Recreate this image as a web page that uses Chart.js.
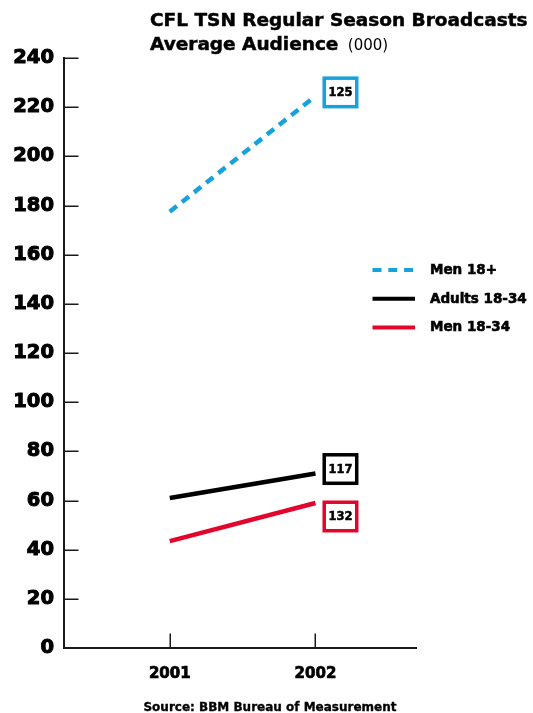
<!DOCTYPE html>
<html>
<head>
<meta charset="utf-8">
<script src="https://cdn.jsdelivr.net/npm/chart.js@4/dist/chart.umd.min.js"></script>
<style>
  html, body { margin: 0; padding: 0; background: #fff; }
  #wrap { position: relative; width: 533px; height: 713px; overflow: hidden; }
  #c { position: absolute; left: 0; top: 0; }
  .title { position: absolute; left: 150px; top: 8px; font-family: "DejaVu Sans", sans-serif; font-weight: bold; font-size: 18.5px; line-height: 24px; color: #000; white-space: nowrap; -webkit-text-stroke: 0.5px #000; }
  .title .unit { font-weight: normal; font-size: 15px; margin-left: 3px; -webkit-text-stroke: 0; }
  .source { position: absolute; left: 0; width: 540px; text-align: center; top: 700px; font-family: "DejaVu Sans", sans-serif; font-weight: bold; font-size: 12px; line-height: 14px; color: #000; white-space: nowrap; -webkit-text-stroke: 0.35px #000; }
</style>
</head>
<body>
<div id="wrap">
  <canvas id="c" width="533" height="713"></canvas>
  <div class="title">CFL TSN Regular Season Broadcasts<br>Average Audience <span class="unit">(000)</span></div>
  <div class="source">Source: BBM Bureau of Measurement</div>
</div>
<script>
// ---- data ----
const years = [2001, 2002];
const seriesLabels = ['Men 18+', 'Adults 18-34', 'Men 18-34'];
const men18plus = [177.5, 224.5];
const adults1834 = [61, 71];
const men1834 = [43.5, 59];
const changeLabels = ['125', '117', '132'];      // % change boxes
const changeBoxValues = [226, 72.8, 53.5];       // vertical anchor (axis units) of each box
const yMin = 0, yMax = 240, yStep = 20;

// ---- styles ----
const colors = ['#17a2dc', '#000000', '#e2062c'];
const dashes = [[9, 6.5], [], []];
const axisColor = '#1a1a1a';
const FONT = '"DejaVu Sans", sans-serif';

const seriesValues = [men18plus, adults1834, men1834];
const datasets = seriesValues.map((vals, i) => ({
  label: seriesLabels[i],
  data: years.map((yr, j) => ({ x: yr, y: vals[j] })),
  borderColor: colors[i],
  backgroundColor: colors[i],
  borderWidth: 4.5,
  borderDash: dashes[i],
  borderCapStyle: 'butt',
  pointRadius: 0,
  tension: 0,
  fill: false
}));

// inner tick marks
const innerTicks = {
  id: 'innerTicks',
  afterDraw(chart) {
    const ctx = chart.ctx, xs = chart.scales.x, ys = chart.scales.y;
    const L = 14.5;
    ctx.save();
    ctx.strokeStyle = axisColor;
    ctx.lineWidth = 1.5;
    ctx.beginPath();
    ys.ticks.forEach(t => {
      const py = Math.round(ys.getPixelForValue(t.value)) + 0.25;
      ctx.moveTo(xs.left, py); ctx.lineTo(xs.left + L, py);
    });
    years.forEach(yr => {
      const px = Math.round(xs.getPixelForValue(yr)) + 0.25;
      ctx.moveTo(px, ys.bottom); ctx.lineTo(px, ys.bottom - L);
    });
    ctx.stroke();
    ctx.restore();
  }
};

// percent-change boxes
const changeBoxes = {
  id: 'changeBoxes',
  afterDatasetsDraw(chart) {
    const ctx = chart.ctx, xs = chart.scales.x, ys = chart.scales.y;
    const w = 32.5, h = 28.5;
    ctx.save();
    changeLabels.forEach((txt, i) => {
      const cx = xs.getPixelForValue(years[years.length - 1]) + 25;
      const cy = ys.getPixelForValue(changeBoxValues[i]);
      ctx.fillStyle = '#fff';
      ctx.fillRect(cx - w / 2, cy - h / 2, w, h);
      ctx.strokeStyle = chart.data.datasets[i].borderColor;
      ctx.lineWidth = 3.5;
      ctx.strokeRect(cx - w / 2, cy - h / 2, w, h);
      ctx.fillStyle = '#000';
      ctx.strokeStyle = '#000';
      ctx.lineWidth = 0.5;
      ctx.font = 'bold 11.5px ' + FONT;
      ctx.textAlign = 'center';
      ctx.textBaseline = 'middle';
      ctx.fillText(txt, cx, cy + 0.5);
      ctx.strokeText(txt, cx, cy + 0.5);
    });
    ctx.restore();
  }
};

// custom legend to the right of the plot
const sideLegend = {
  id: 'sideLegend',
  afterDraw(chart) {
    const ctx = chart.ctx, area = chart.chartArea;
    const x0 = area.right - 43.5, x1 = area.right - 1, tx = area.right + 14;
    const y0 = 270, gap = 28.7;
    ctx.save();
    chart.data.datasets.forEach((ds, i) => {
      const y = y0 + i * gap;
      ctx.strokeStyle = ds.borderColor;
      ctx.lineWidth = 4;
      ctx.lineCap = 'butt';
      ctx.setLineDash(ds.borderDash && ds.borderDash.length ? [9, 6.8] : []);
      ctx.beginPath(); ctx.moveTo(x0, y); ctx.lineTo(x1, y); ctx.stroke();
      ctx.setLineDash([]);
      ctx.fillStyle = '#000';
      ctx.strokeStyle = '#000';
      ctx.lineWidth = 0.6;
      ctx.font = 'bold 13.5px ' + FONT;
      ctx.textAlign = 'left';
      ctx.textBaseline = 'middle';
      ctx.fillText(ds.label, tx, y + 0.5);
      ctx.strokeText(ds.label, tx, y + 0.5);
    });
    ctx.restore();
  }
};

new Chart(document.getElementById('c'), {
  type: 'line',
  data: { datasets },
  options: {
    responsive: false,
    animation: false,
    devicePixelRatio: 1,
    layout: { padding: { top: 58, right: 117, left: 0, bottom: 0 } },
    plugins: { legend: { display: false }, title: { display: false }, tooltip: { enabled: false } },
    scales: {
      x: {
        type: 'linear',
        min: 2000.274, max: 2002.69,
        afterBuildTicks: s => { s.ticks = years.map(v => ({ value: v })); },
        afterFit: s => { s.height = 713 - 648; },
        grid: { display: false, drawTicks: false },
        border: { display: true, color: axisColor, width: 2 },
        ticks: {
          callback: v => String(v),
          font: { family: FONT, weight: 'bold', size: 15 },
          color: '#000',
          textStrokeColor: '#000',
          textStrokeWidth: 0.7,
          padding: 17,
          maxRotation: 0
        }
      },
      y: {
        min: yMin, max: yMax,
        afterFit: s => { s.width = 64; },
        grid: { display: false, drawTicks: false },
        border: { display: true, color: axisColor, width: 2 },
        ticks: {
          stepSize: yStep,
          callback: v => String(v),
          font: { family: FONT, weight: 'bold', size: 19.5 },
          color: '#000',
          textStrokeColor: '#000',
          textStrokeWidth: 1,
          padding: 10
        }
      }
    }
  },
  plugins: [innerTicks, changeBoxes, sideLegend]
});
</script>
</body>
</html>
